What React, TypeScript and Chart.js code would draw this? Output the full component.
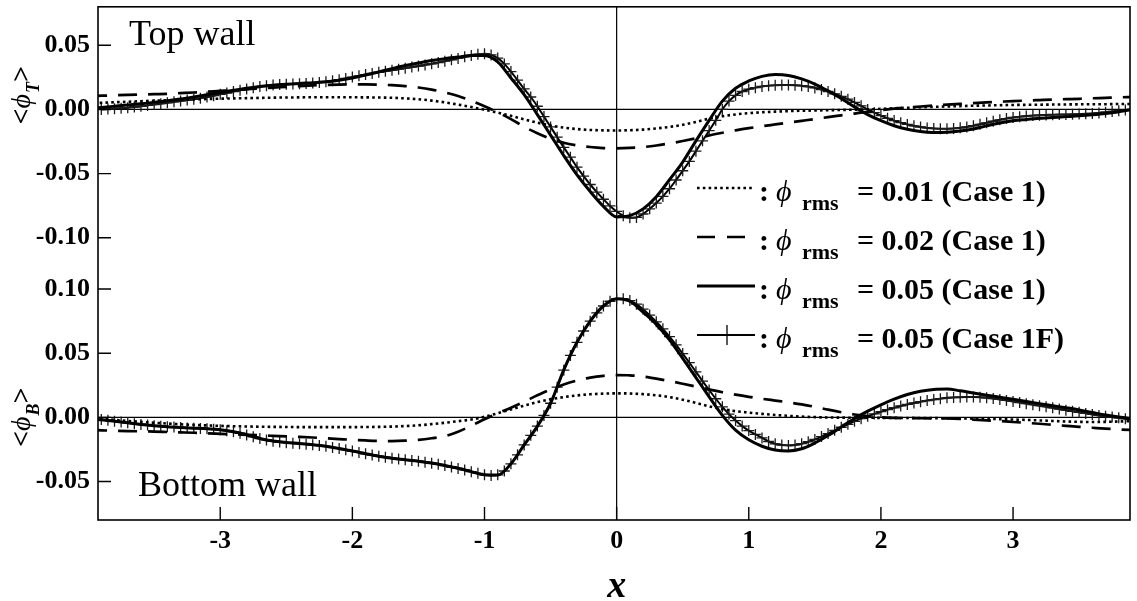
import React, { useEffect, useRef } from "react";
import { Chart, registerables } from "chart.js";

Chart.register(...registerables);

// ---------- axes ----------
const X_MIN = -3.925;
const X_MAX = 3.885;
const X_TICKS = [-3, -2, -1, 0, 1, 2, 3];
const TOP_RANGE = [-0.12, 0.08];
const BOTTOM_RANGE = [-0.08, 0.12];
const TOP_TICKS = [-0.1, -0.05, 0, 0.05];
const BOTTOM_TICKS = [-0.05, 0, 0.05, 0.1];

// x grids: Case 1 curves sampled every 0.1 from -4.0, Case 1F every 0.05 from -3.9
const grid = (start: number, step: number, n: number) =>
  Array.from({ length: n }, (_, i) => Math.round((start + i * step) * 1000) / 1000);
const X_CASE1 = grid(-4.0, 0.1, 81);
const X_CASE1F = grid(-3.9, 0.05, 157);

// ---------- top wall <phi_T> ----------
const TOP_RMS001 = [
  0.0048, 0.0052, 0.0056, 0.006, 0.0064, 0.0068, 0.0071, 0.0075, 0.0078, 0.0081,
  0.0084, 0.0086, 0.0088, 0.009, 0.0092, 0.0093, 0.0094, 0.0095, 0.0095, 0.0095,
  0.0095, 0.0094, 0.0093, 0.0091, 0.0086, 0.0079, 0.0069, 0.0055, 0.0038, 0.0019,
  -0.0002, -0.0025, -0.005, -0.0077, -0.0103, -0.0125, -0.0142, -0.0153, -0.016, -0.0163,
  -0.0164, -0.0162, -0.0157, -0.0148, -0.0136, -0.012, -0.0098, -0.0072, -0.0053, -0.0039,
  -0.0029, -0.0022, -0.0017, -0.0013, -0.001, -0.0008, -0.0006, -0.0004, -0.0002, 0.0,
  0.0005, 0.0009, 0.0013, 0.0017, 0.002, 0.0023, 0.0026, 0.0029, 0.0031, 0.0033,
  0.0035, 0.0036, 0.0037, 0.0038, 0.0039, 0.004, 0.0041, 0.0041, 0.0042, 0.0042,
  0.0042,
];
const TOP_RMS002 = [
  0.0105, 0.0107, 0.011, 0.0113, 0.0116, 0.0119, 0.0122, 0.0127, 0.0132, 0.0138,
  0.0144, 0.015, 0.0157, 0.0164, 0.017, 0.0176, 0.0182, 0.0187, 0.0191, 0.0194,
  0.0195, 0.0195, 0.0193, 0.0189, 0.0182, 0.0171, 0.0155, 0.0133, 0.0105, 0.0068,
  0.0025, -0.0023, -0.0075, -0.0135, -0.0185, -0.0228, -0.026, -0.028, -0.0293, -0.0301,
  -0.0303, -0.03, -0.0293, -0.0281, -0.0265, -0.0246, -0.0225, -0.0203, -0.0182, -0.0163,
  -0.0146, -0.0131, -0.0117, -0.0103, -0.0089, -0.0075, -0.006, -0.0046, -0.0032, -0.0018,
  -0.0005, 0.0006, 0.0015, 0.0023, 0.003, 0.0037, 0.0043, 0.0049, 0.0055, 0.006,
  0.0065, 0.0069, 0.0073, 0.0077, 0.008, 0.0083, 0.0087, 0.009, 0.0094, 0.0097,
  0.01,
];
const TOP_RMS005 = [
  0.0008, 0.0016, 0.0025, 0.0034, 0.0044, 0.0055, 0.0068, 0.0082, 0.0098, 0.0115,
  0.0132, 0.0149, 0.0165, 0.0178, 0.0189, 0.0197, 0.0203, 0.0208, 0.0215, 0.0228,
  0.0245, 0.0268, 0.0293, 0.0318, 0.0342, 0.0362, 0.0381, 0.0396, 0.0408, 0.042,
  0.042, 0.037, 0.0245, 0.0115, -0.004, -0.02, -0.036, -0.051, -0.064, -0.0755,
  -0.0838, -0.0828, -0.0775, -0.068, -0.0548, -0.041, -0.0245, -0.0085, 0.0065, 0.0165,
  0.0222, 0.0258, 0.0272, 0.0265, 0.0238, 0.0198, 0.0145, 0.0085, 0.002, -0.004,
  -0.0088, -0.0127, -0.0155, -0.0172, -0.018, -0.0178, -0.0168, -0.0152, -0.0128, -0.0105,
  -0.0088, -0.0078, -0.0069, -0.0062, -0.0056, -0.005, -0.0042, -0.0032, -0.0018, -0.0003,
  0.001,
];
const TOP_RMS005_1F = [
  0.0, 0.0003, 0.0006, 0.001, 0.0014, 0.0019, 0.0025, 0.0031, 0.0038, 0.0045,
  0.0052, 0.0059, 0.0066, 0.0073, 0.008, 0.0088, 0.0097, 0.0107, 0.0118, 0.0128,
  0.0139, 0.015, 0.016, 0.017, 0.0178, 0.0185, 0.019, 0.0194, 0.0197, 0.0199,
  0.0201, 0.0203, 0.0206, 0.021, 0.0216, 0.0223, 0.0232, 0.0242, 0.0252, 0.0262,
  0.0272, 0.0281, 0.029, 0.0298, 0.0306, 0.0314, 0.0322, 0.033, 0.0338, 0.0347,
  0.0356, 0.0366, 0.0376, 0.0387, 0.0398, 0.041, 0.0421, 0.043, 0.0435, 0.0425,
  0.04, 0.0355, 0.0295, 0.0228, 0.016, 0.0097, 0.0025, -0.0056, -0.0136, -0.0216,
  -0.0296, -0.0372, -0.045, -0.052, -0.0585, -0.0645, -0.07, -0.0752, -0.0795, -0.0828,
  -0.0845, -0.0842, -0.0815, -0.0775, -0.073, -0.0678, -0.0618, -0.055, -0.0478, -0.0405,
  -0.0325, -0.0245, -0.0165, -0.0085, 0.0, 0.0065, 0.011, 0.014, 0.0158, 0.017,
  0.0179, 0.0185, 0.0188, 0.019, 0.019, 0.0189, 0.0185, 0.0178, 0.0168, 0.0155,
  0.014, 0.0122, 0.0102, 0.008, 0.0055, 0.0028, 0.0, -0.0025, -0.0048, -0.0069,
  -0.0087, -0.0103, -0.0117, -0.0128, -0.0137, -0.0144, -0.0148, -0.015, -0.015, -0.0148,
  -0.0143, -0.0136, -0.0127, -0.0116, -0.0104, -0.0092, -0.0081, -0.0071, -0.0063, -0.0057,
  -0.0052, -0.0048, -0.0045, -0.0043, -0.0041, -0.004, -0.0039, -0.0038, -0.0036, -0.0034,
  -0.0031, -0.0027, -0.0022, -0.0016, -0.001, -0.0005, 0.0,
];

// ---------- bottom wall <phi_B> ----------
const BOTTOM_RMS001 = [
  -0.0005, -0.0012, -0.002, -0.0028, -0.0035, -0.0042, -0.0048, -0.0054, -0.0059, -0.0063,
  -0.0066, -0.0069, -0.0071, -0.0073, -0.0074, -0.0075, -0.0076, -0.0076, -0.0076, -0.0076,
  -0.0076, -0.0075, -0.0074, -0.0072, -0.0068, -0.0062, -0.0053, -0.0042, -0.003, -0.0017,
  0.0005, 0.0032, 0.0062, 0.0091, 0.0119, 0.0141, 0.0158, 0.0171, 0.018, 0.0185,
  0.0187, 0.0186, 0.0181, 0.0172, 0.0158, 0.0138, 0.0113, 0.0086, 0.0064, 0.0048,
  0.0037, 0.0027, 0.0019, 0.0012, 0.0006, 0.0002, -0.0001, -0.0002, -0.0003, -0.0003,
  -0.0004, -0.0004, -0.0005, -0.0005, -0.0006, -0.0007, -0.0008, -0.001, -0.0012, -0.0014,
  -0.0017, -0.002, -0.0024, -0.0028, -0.0032, -0.0035, -0.0036, -0.0035, -0.0032, -0.003,
  -0.0028,
];
const BOTTOM_RMS002 = [
  -0.0098, -0.0101, -0.0104, -0.0107, -0.0109, -0.0111, -0.0114, -0.0117, -0.012, -0.0124,
  -0.0128, -0.0132, -0.0136, -0.014, -0.0144, -0.0148, -0.0152, -0.0157, -0.0163, -0.0169,
  -0.0175, -0.018, -0.0184, -0.0185, -0.0182, -0.0175, -0.0163, -0.0147, -0.0112, -0.0065,
  -0.0015, 0.0032, 0.0075, 0.0122, 0.0172, 0.0218, 0.0256, 0.0287, 0.031, 0.0324,
  0.033, 0.0328, 0.0318, 0.0302, 0.0283, 0.0262, 0.024, 0.0218, 0.0196, 0.0177,
  0.016, 0.0145, 0.0131, 0.0117, 0.0101, 0.0082, 0.006, 0.004, 0.0022, 0.0009,
  0.0, -0.0004, -0.0006, -0.0007, -0.0008, -0.0009, -0.0012, -0.0017, -0.0023, -0.0029,
  -0.0036, -0.0043, -0.005, -0.0058, -0.0066, -0.0074, -0.0081, -0.0088, -0.0094, -0.0099,
  -0.0102,
];
const BOTTOM_RMS005 = [
  -0.001, -0.0018, -0.003, -0.0042, -0.0055, -0.0065, -0.0073, -0.0079, -0.0084, -0.0089,
  -0.0096, -0.0112, -0.0135, -0.0165, -0.0185, -0.0196, -0.0204, -0.0213, -0.0225, -0.0243,
  -0.0262, -0.0283, -0.0303, -0.0318, -0.033, -0.0342, -0.0356, -0.0375, -0.0397, -0.0423,
  -0.0448, -0.045, -0.0362, -0.0215, -0.007, 0.011, 0.037, 0.0585, 0.075, 0.0868,
  0.0925, 0.0905, 0.082, 0.0725, 0.0605, 0.046, 0.031, 0.016, 0.0015, -0.01,
  -0.0175, -0.0225, -0.0255, -0.0262, -0.0245, -0.02, -0.0142, -0.0075, -0.001, 0.0048,
  0.0098, 0.0142, 0.0178, 0.0203, 0.0218, 0.0221, 0.0207, 0.019, 0.0173, 0.0157,
  0.0141, 0.0124, 0.0107, 0.0091, 0.0075, 0.0058, 0.0038, 0.0018, 0.0002, -0.001,
  -0.0015,
];
const BOTTOM_RMS005_1F = [
  -0.0016, -0.0023, -0.003, -0.0036, -0.0042, -0.0049, -0.0055, -0.006, -0.0065, -0.0069,
  -0.0073, -0.0076, -0.0079, -0.0082, -0.0084, -0.0087, -0.0089, -0.0092, -0.0097, -0.0104,
  -0.0113, -0.0124, -0.0137, -0.0151, -0.0165, -0.0176, -0.0186, -0.0192, -0.0197, -0.0201,
  -0.0205, -0.0209, -0.0214, -0.0219, -0.0226, -0.0234, -0.0243, -0.0253, -0.0263, -0.0273,
  -0.0284, -0.0294, -0.0303, -0.0311, -0.0318, -0.0324, -0.033, -0.0336, -0.0342, -0.0349,
  -0.0357, -0.0366, -0.0376, -0.0387, -0.0398, -0.041, -0.0423, -0.0436, -0.0447, -0.0453,
  -0.0448, -0.0418, -0.0362, -0.0292, -0.0215, -0.014, -0.0068, 0.0015, 0.011, 0.0235,
  0.0368, 0.0483, 0.0585, 0.0673, 0.075, 0.0815, 0.0868, 0.0905, 0.0925, 0.0925,
  0.091, 0.0882, 0.0843, 0.0797, 0.0745, 0.069, 0.063, 0.0565, 0.0497, 0.0427,
  0.0355, 0.0283, 0.0213, 0.0145, 0.0082, 0.0025, -0.0025, -0.0068, -0.0103, -0.0133,
  -0.016, -0.0188, -0.0206, -0.0216, -0.0219, -0.0215, -0.0205, -0.019, -0.0172, -0.015,
  -0.0126, -0.0101, -0.0077, -0.0054, -0.0031, -0.001, 0.0009, 0.0027, 0.0044, 0.006,
  0.0075, 0.0089, 0.0101, 0.0112, 0.0122, 0.0131, 0.0139, 0.0146, 0.0152, 0.0155,
  0.0157, 0.0158, 0.0158, 0.0157, 0.0153, 0.0147, 0.014, 0.0132, 0.0124, 0.0115,
  0.0107, 0.0099, 0.0091, 0.0083, 0.0074, 0.0065, 0.0056, 0.0047, 0.0039, 0.0031,
  0.0023, 0.0015, 0.0008, 0.0002, -0.0004, -0.001, -0.0015,
];

// ---------- legend ----------
const LEGEND_VALUES = ["= 0.01 (Case 1)", "= 0.02 (Case 1)", "= 0.05 (Case 1)", "= 0.05 (Case 1F)"];

const SERIF = "'Liberation Serif', 'Times New Roman', serif";
const DOT = [2.6, 3.2];
const DASH = [19, 11];
const TICK_FONT = { family: SERIF, size: 26, weight: "bold" };

const pts = (xs: number[], ys: number[]) => xs.map((x, i) => ({ x, y: ys[i] }));

function styleFor(kind: number) {
  if (kind === 0) return { borderDash: DOT, borderWidth: 2.6, pointRadius: 0 };
  if (kind === 1) return { borderDash: DASH, borderWidth: 2.7, pointRadius: 0 };
  if (kind === 2) return { borderDash: [], borderWidth: 3, pointRadius: 0 };
  return {
    borderDash: [],
    borderWidth: 2,
    pointRadius: 5.5,
    pointStyle: "cross",
    pointBorderWidth: 1.3,
    pointBorderColor: "#1a1a1a",
  };
}

function drawRuns(ctx: CanvasRenderingContext2D, runs: any[], x: number, y: number, measureOnly = false) {
  let cx = x;
  for (const r of runs) {
    ctx.font = r.font;
    if (!measureOnly) ctx.fillText(r.text, cx, y + (r.dy || 0));
    cx += ctx.measureText(r.text).width + (r.dx || 0);
  }
  return cx - x;
}

const decorPlugin = {
  id: "decor",
  beforeDatasetsDraw(chart: any) {
    const { ctx, chartArea: a, scales } = chart;
    const x0 = scales.x.getPixelForValue(0);
    const yT0 = scales.yT.getPixelForValue(0);
    const yB0 = scales.yB.getPixelForValue(0);
    ctx.save();
    ctx.strokeStyle = "#000";
    ctx.lineWidth = 1.2;
    ctx.beginPath();
    ctx.moveTo(a.left, yT0);
    ctx.lineTo(a.right, yT0);
    ctx.moveTo(a.left, yB0);
    ctx.lineTo(a.right, yB0);
    ctx.moveTo(x0, a.top);
    ctx.lineTo(x0, a.bottom);
    ctx.stroke();
    ctx.restore();
  },
  afterDraw(chart: any) {
    const { ctx, chartArea: a, scales } = chart;
    ctx.save();
    ctx.fillStyle = "#000";
    ctx.strokeStyle = "#000";
    // frame
    ctx.lineWidth = 1.6;
    ctx.strokeRect(a.left, a.top, a.right - a.left, a.bottom - a.top);
    // inward ticks
    ctx.lineWidth = 1.4;
    ctx.beginPath();
    for (const v of TOP_TICKS) {
      const y = scales.yT.getPixelForValue(v);
      ctx.moveTo(a.left, y);
      ctx.lineTo(a.left + 13, y);
    }
    for (const v of BOTTOM_TICKS) {
      const y = scales.yB.getPixelForValue(v);
      ctx.moveTo(a.left, y);
      ctx.lineTo(a.left + 13, y);
    }
    for (const v of X_TICKS) {
      const x = scales.x.getPixelForValue(v);
      ctx.moveTo(x, a.bottom);
      ctx.lineTo(x, a.bottom - 13);
    }
    ctx.stroke();

    // wall labels
    ctx.textBaseline = "alphabetic";
    ctx.textAlign = "left";
    ctx.font = `36px ${SERIF}`;
    ctx.fillText("Top wall", a.left + 31, scales.yT.getPixelForValue(0.05));
    ctx.fillText("Bottom wall", a.left + 40, a.bottom - 24);

    // x title
    ctx.textAlign = "center";
    ctx.font = `italic bold 38px ${SERIF}`;
    ctx.fillText("x", scales.x.getPixelForValue(0), 597);
    ctx.textAlign = "left";

    // y titles (rotated)
    const yTitle = (sub: string, cy: number) => {
      const runs = [
        { text: "<", font: `bold 28px ${SERIF}` },
        { text: "\u03D5", font: `italic 28px ${SERIF}`, dx: 1 },
        { text: sub, font: `italic bold 18px ${SERIF}`, dy: 9 },
        { text: ">", font: `bold 28px ${SERIF}` },
      ];
      const w = drawRuns(ctx, runs, 0, 0, true);
      ctx.save();
      ctx.translate(30, cy);
      ctx.rotate(-Math.PI / 2);
      drawRuns(ctx, runs, -w / 2, 0);
      ctx.restore();
    };
    yTitle("T", scales.yT.getPixelForValue(0.011));
    yTitle("B", scales.yB.getPixelForValue(0));

    // legend
    const bases = [201, 250, 299, 348];
    bases.forEach((b, i) => {
      const ly = b - 13;
      ctx.save();
      ctx.beginPath();
      if (i === 0) {
        ctx.setLineDash(DOT);
        ctx.lineWidth = 2.6;
        ctx.moveTo(697, ly);
        ctx.lineTo(753, ly);
      } else if (i === 1) {
        ctx.setLineDash([18, 12]);
        ctx.lineWidth = 2.7;
        ctx.moveTo(697, ly);
        ctx.lineTo(745, ly);
      } else if (i === 2) {
        ctx.lineWidth = 3;
        ctx.moveTo(697, ly);
        ctx.lineTo(755, ly);
      } else {
        ctx.lineWidth = 2.2;
        ctx.moveTo(697, ly);
        ctx.lineTo(755, ly);
      }
      ctx.stroke();
      if (i === 3) {
        ctx.lineWidth = 1.3;
        ctx.beginPath();
        ctx.moveTo(727, ly - 10);
        ctx.lineTo(727, ly + 10);
        ctx.stroke();
      }
      ctx.restore();
      ctx.font = `bold 30px ${SERIF}`;
      ctx.fillText(":", 759, b);
      ctx.font = `italic 30px ${SERIF}`;
      ctx.fillText("\u03D5", 776, b);
      ctx.font = `bold 22px ${SERIF}`;
      ctx.fillText("rms", 802, b + 9);
      ctx.font = `bold 30px ${SERIF}`;
      ctx.fillText(LEGEND_VALUES[i], 857, b);
    });
    ctx.restore();
  },
};

const yFit = (s: any) => {
  s.width = 98;
  s.paddingTop = 0;
  s.paddingBottom = 0;
};

const NO_GRID = { display: false, drawTicks: false, tickLength: 0 };

export default function App() {
  const ref = useRef<HTMLCanvasElement | null>(null);
  useEffect(() => {
    document.body.style.margin = "0";
    const canvas = ref.current;
    if (!canvas) return;
    const mk = (label: string, xs: number[], ys: number[], axis: string, kind: number) => ({
      label,
      data: pts(xs, ys),
      yAxisID: axis,
      borderColor: "#000",
      backgroundColor: "transparent",
      fill: false,
      cubicInterpolationMode: "monotone",
      borderCapStyle: "butt",
      ...styleFor(kind),
    });
    const chart = new Chart(canvas, {
      type: "line",
      data: {
        datasets: [
          mk("T 0.01", X_CASE1, TOP_RMS001, "yT", 0),
          mk("T 0.02", X_CASE1, TOP_RMS002, "yT", 1),
          mk("T 0.05", X_CASE1, TOP_RMS005, "yT", 2),
          mk("T 0.05 1F", X_CASE1F, TOP_RMS005_1F, "yT", 3),
          mk("B 0.01", X_CASE1, BOTTOM_RMS001, "yB", 0),
          mk("B 0.02", X_CASE1, BOTTOM_RMS002, "yB", 1),
          mk("B 0.05", X_CASE1, BOTTOM_RMS005, "yB", 2),
          mk("B 0.05 1F", X_CASE1F, BOTTOM_RMS005_1F, "yB", 3),
        ] as any,
      },
      options: {
        responsive: false,
        animation: false,
        parsing: false as any,
        layout: { padding: { top: 4, right: 7, bottom: 0, left: 0 } },
        plugins: { legend: { display: false }, tooltip: { enabled: false } },
        events: [],
        scales: {
          x: {
            type: "linear",
            position: "bottom",
            min: X_MIN,
            max: X_MAX,
            grid: NO_GRID,
            border: { display: false },
            afterBuildTicks: (s: any) => {
              s.ticks = X_TICKS.map((v) => ({ value: v }));
            },
            afterFit: (s: any) => {
              s.height = 81;
              s.paddingLeft = 0;
              s.paddingRight = 0;
            },
            ticks: {
              padding: 6,
              color: "#000",
              font: TICK_FONT,
              callback: (v: any) => String(v),
            },
          },
          yB: {
            type: "linear",
            position: "left",
            stack: "panels",
            stackWeight: 1,
            min: BOTTOM_RANGE[0],
            max: BOTTOM_RANGE[1],
            grid: NO_GRID,
            border: { display: false },
            afterBuildTicks: (s: any) => {
              s.ticks = BOTTOM_TICKS.map((v) => ({ value: v }));
            },
            afterFit: yFit,
            ticks: {
              padding: 8,
              color: "#000",
              font: TICK_FONT,
              callback: (v: any) => Number(v).toFixed(2),
            },
          },
          yT: {
            type: "linear",
            position: "left",
            stack: "panels",
            stackWeight: 1,
            min: TOP_RANGE[0],
            max: TOP_RANGE[1],
            grid: NO_GRID,
            border: { display: false },
            afterBuildTicks: (s: any) => {
              s.ticks = TOP_TICKS.map((v) => ({ value: v }));
            },
            afterFit: yFit,
            ticks: {
              padding: 8,
              color: "#000",
              font: TICK_FONT,
              callback: (v: any) => Number(v).toFixed(2),
            },
          },
        } as any,
      },
      plugins: [decorPlugin],
    });
    return () => chart.destroy();
  }, []);
  return (
    <div style={{ width: 1137, height: 601, background: "#fff" }}>
      <canvas ref={ref} width={1137} height={601} style={{ display: "block" }} />
    </div>
  );
}
